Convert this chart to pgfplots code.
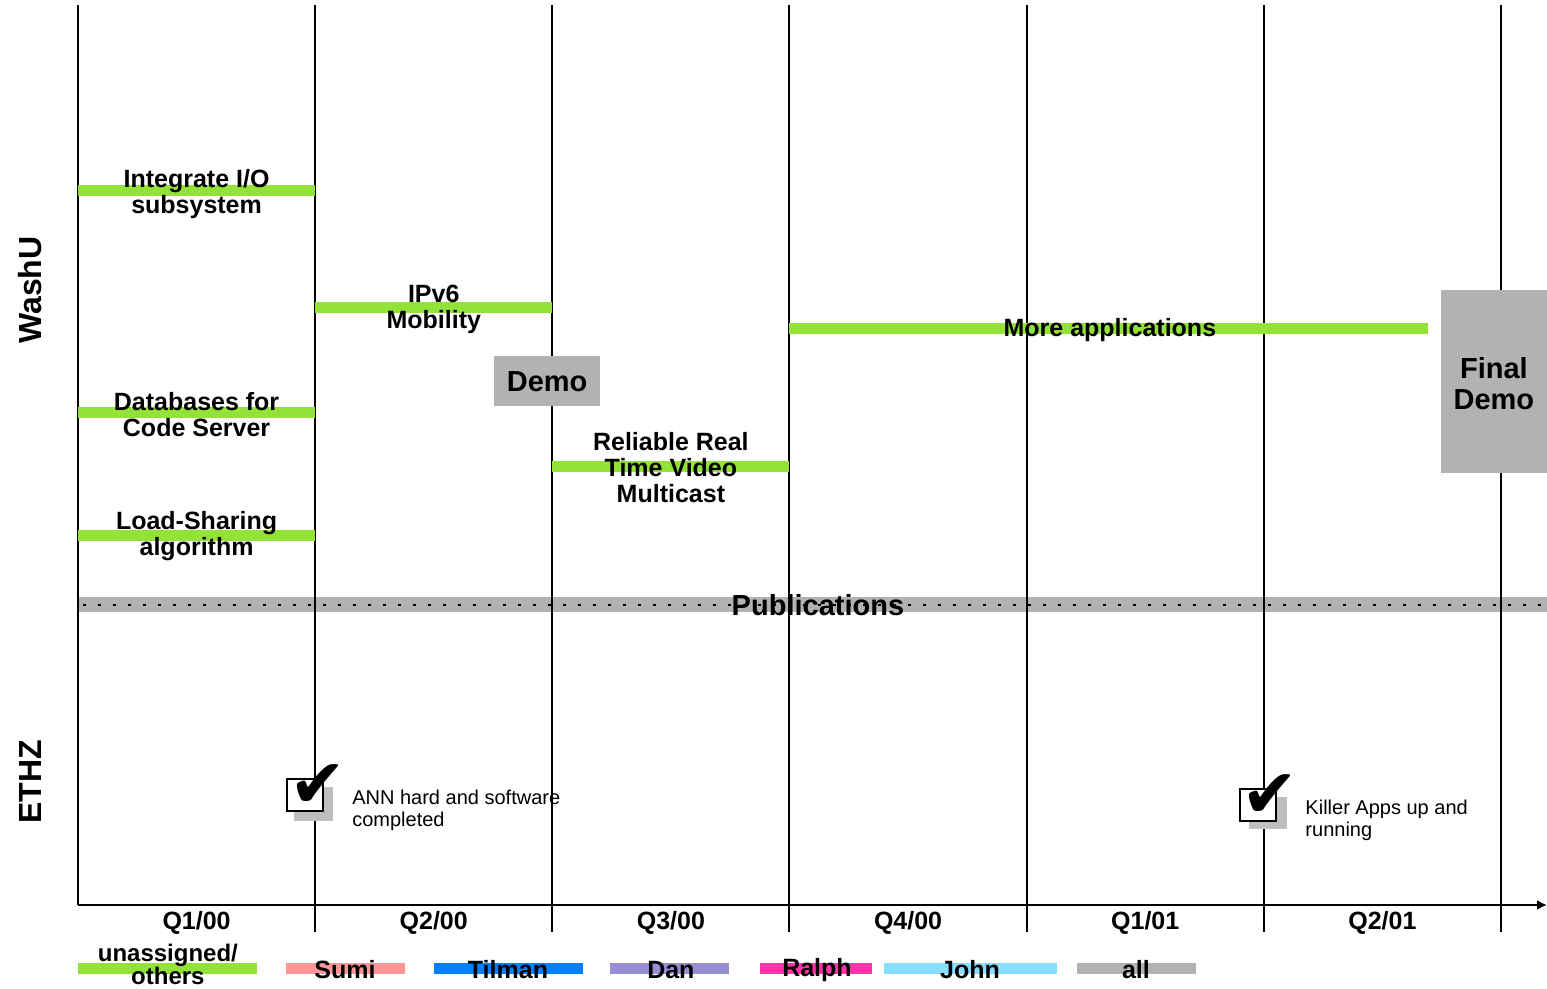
\documentclass[border=0pt]{standalone}
\usepackage{fontspec}
\setmainfont{Liberation Sans}
\newfontfamily\dejavu{DejaVu Sans}
\usepackage{pgfplots}
\pgfplotsset{compat=1.18}
\usetikzlibrary{arrows.meta}
\definecolor{cgreen}{RGB}{146,226,56}
\definecolor{csumi}{RGB}{255,150,150}
\definecolor{ctilman}{RGB}{0,128,255}
\definecolor{cdan}{RGB}{150,142,210}
\definecolor{cralph}{RGB}{255,51,170}
\definecolor{cjohn}{RGB}{135,222,255}
\definecolor{call}{RGB}{178,178,178}
\definecolor{cshadow}{RGB}{190,190,190}
\begin{document}
\begin{tikzpicture}
\begin{axis}[scale only axis, width=773.5pt, height=494.5pt,
  xmin=-0.32887, xmax=6.1941, ymin=0, ymax=989, y dir=reverse,
  hide axis, clip=false]
% publications band
\addplot[call, line width=7.5pt] coordinates {(0,604.5) (6.1941,604.5)};
\addplot[black, line width=1pt, dash pattern=on 1.5pt off 6pt] coordinates {(0.02,604.5) (6.1941,604.5)};
% grid
\draw[line width=1pt] (axis cs:1,5) -- (axis cs:1,932);
\draw[line width=1pt] (axis cs:2,5) -- (axis cs:2,932);
\draw[line width=1pt] (axis cs:3,5) -- (axis cs:3,932);
\draw[line width=1pt] (axis cs:4,5) -- (axis cs:4,932);
\draw[line width=1pt] (axis cs:5,5) -- (axis cs:5,932);
\draw[line width=1pt] (axis cs:6,5) -- (axis cs:6,932);
\draw[line width=1pt] (axis cs:0,5) -- (axis cs:0,905);
\draw[line width=1pt, -{Latex[length=5pt,width=5pt]}] (axis cs:0,905) -- (axis cs:6.1941,905);
% task bars
\addplot[cgreen, line width=5.5pt] coordinates {(0,191) (1,191)};
\addplot[cgreen, line width=5.5pt] coordinates {(1,308) (2,308)};
\addplot[cgreen, line width=5.5pt] coordinates {(3,329) (5.692,329)};
\addplot[cgreen, line width=5.5pt] coordinates {(0,413) (1,413)};
\addplot[cgreen, line width=5.5pt] coordinates {(2,466) (3,466)};
\addplot[cgreen, line width=5.5pt] coordinates {(0,535) (1,535)};
% demo boxes
\addplot[fill=call, draw=none] coordinates {(1.754,356) (2.201,356) (2.201,406) (1.754,406)} -- cycle;
\addplot[fill=call, draw=none] coordinates {(5.747,290) (6.1941,290) (6.1941,473) (5.747,473)} -- cycle;
% check boxes
\addplot[fill=cshadow, draw=none] coordinates {(0.911,787) (1.075,787) (1.075,821) (0.911,821)} -- cycle;
\addplot[fill=white, draw=black, line width=1pt] coordinates {(0.881,779) (1.033,779) (1.033,811) (0.881,811)} -- cycle;
\addplot[fill=cshadow, draw=none] coordinates {(4.937,797) (5.098,797) (5.098,829) (4.937,829)} -- cycle;
\addplot[fill=white, draw=black, line width=1pt] coordinates {(4.899,789) (5.051,789) (5.051,821) (4.899,821)} -- cycle;
\node[font=\dejavu\fontsize{34}{34}\selectfont, inner sep=0] at (axis cs:1.01,786) {✔};
\node[font=\dejavu\fontsize{34}{34}\selectfont, inner sep=0] at (axis cs:5.025,796) {✔};
% labels
\tikzset{lab/.style={font=\bfseries\fontsize{12.5}{13}\selectfont, align=center, inner sep=0}}
\node[lab] at (axis cs:0.5,194) {Integrate I/O\\subsystem};
\node[lab] at (axis cs:1.5,309) {IPv6\\Mobility};
\node[lab] at (axis cs:4.351,330) {More applications};
\node[lab] at (axis cs:0.5,415) {Databases for\\Code Server};
\node[lab] at (axis cs:2.5,468) {Reliable Real\\Time Video\\Multicast};
\node[lab] at (axis cs:0.5,536) {Load-Sharing\\algorithm};
\node[font=\bfseries\fontsize{14.5}{15.5}\selectfont, inner sep=0] at (axis cs:1.978,382) {Demo};
\node[font=\bfseries\fontsize{14.5}{15.5}\selectfont, align=center, inner sep=0] at (axis cs:5.970,384) {Final\\Demo};
\node[font=\bfseries\fontsize{14.5}{15}\selectfont, inner sep=0] at (axis cs:3.12,605) {Publications};
\node[font=\bfseries\fontsize{16}{16}\selectfont, rotate=90, inner sep=0] at (axis cs:-0.2024,290) {WashU};
\node[font=\bfseries\fontsize{16}{16}\selectfont, rotate=90, inner sep=0] at (axis cs:-0.2024,782) {ETHZ};
\node[font=\fontsize{10}{11}\selectfont, align=left, anchor=west, inner sep=0] at (axis cs:1.155,810) {ANN hard and software\\completed};
\node[font=\fontsize{10}{11}\selectfont, align=left, anchor=west, inner sep=0] at (axis cs:5.174,820) {Killer Apps up and\\running};
% quarter labels
\node[lab] at (axis cs:0.5,923) {Q1/00};
\node[lab] at (axis cs:1.5,923) {Q2/00};
\node[lab] at (axis cs:2.5,923) {Q3/00};
\node[lab] at (axis cs:3.5,923) {Q4/00};
\node[lab] at (axis cs:4.5,923) {Q1/01};
\node[lab] at (axis cs:5.5,923) {Q2/01};
% legend
\addplot[cgreen, line width=5.5pt] coordinates {(0,968.5) (0.755,968.5)};
\addplot[csumi, line width=5.5pt] coordinates {(0.877,968.5) (1.379,968.5)};
\addplot[ctilman, line width=5.5pt] coordinates {(1.501,968.5) (2.129,968.5)};
\addplot[cdan, line width=5.5pt] coordinates {(2.243,968.5) (2.745,968.5)};
\addplot[cralph, line width=5.5pt] coordinates {(2.876,968.5) (3.348,968.5)};
\addplot[cjohn, line width=5.5pt] coordinates {(3.398,968.5) (4.128,968.5)};
\addplot[call, line width=5.5pt] coordinates {(4.212,968.5) (4.714,968.5)};
\node[lab, font=\bfseries\fontsize{12}{11.5}\selectfont] at (axis cs:0.379,964) {unassigned/\\others};
\node[lab] at (axis cs:1.126,970) {Sumi};
\node[lab] at (axis cs:1.813,970) {Tilman};
\node[lab] at (axis cs:2.500,970) {Dan};
\node[lab] at (axis cs:3.116,970) {Ralph};
\node[lab] at (axis cs:3.761,970) {John};
\node[lab] at (axis cs:4.461,970) {all};
\end{axis}
\pgfresetboundingbox
\path (0,0) rectangle (773.5pt,494.5pt);
\end{tikzpicture}
\end{document}
